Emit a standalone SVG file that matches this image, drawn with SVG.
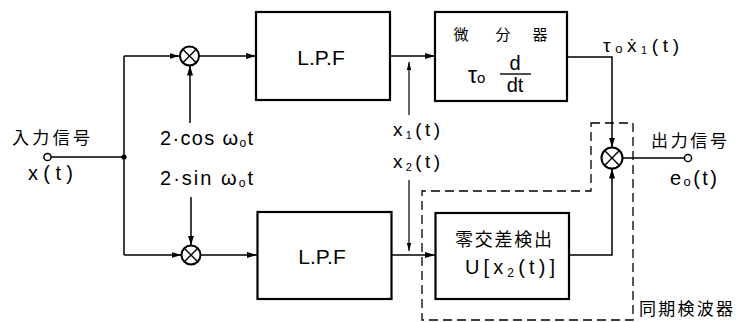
<svg xmlns="http://www.w3.org/2000/svg" width="736" height="322" viewBox="0 0 736 322">
<style>
  .box{fill:#fff;stroke:#000;stroke-width:2.2}
  .ln{fill:none;stroke:#000;stroke-width:1.5}
  .mx{fill:#fff;stroke:#000;stroke-width:2}
  .mxl{stroke:#000;stroke-width:1.4}
  .term{fill:#fff;stroke:#000;stroke-width:1.5}
  .dash{fill:none;stroke:#000;stroke-width:1.3;stroke-dasharray:9 5}
  .t{font-family:"Liberation Sans","DejaVu Sans",Arial,sans-serif;fill:#000}
  .j{font-family:"Noto Sans CJK JP","Noto Sans",sans-serif;fill:#000}
</style>
<defs>
  <marker id="ah" markerUnits="userSpaceOnUse" markerWidth="11" markerHeight="7" refX="10" refY="3.5" orient="auto">
    <path d="M0,0.5 L10,3.5 L0,6.5 z" fill="#000"/>
  </marker>
  <marker id="ahs" markerUnits="userSpaceOnUse" markerWidth="9" markerHeight="6" refX="8" refY="3" orient="auto">
    <path d="M0,0.8 L8,3 L0,5.2 z" fill="#000"/>
  </marker>
</defs>

<g id="connectors">
  <line class="ln" x1="51" y1="157" x2="124" y2="157"/>
  <line class="ln" x1="124" y1="56" x2="124" y2="255"/>
  <circle cx="124" cy="157" r="2.6" fill="#000"/>
  <line class="ln" x1="124" y1="56" x2="179.5" y2="56" marker-end="url(#ah)"/>
  <line class="ln" x1="124" y1="255" x2="181.5" y2="255" marker-end="url(#ah)"/>
  <line class="ln" x1="199" y1="56" x2="256" y2="56" marker-end="url(#ah)"/>
  <line class="ln" x1="201" y1="255" x2="257" y2="255" marker-end="url(#ah)"/>
  <line class="ln" x1="190" y1="123" x2="190" y2="65.5" marker-end="url(#ah)"/>
  <line class="ln" x1="191" y1="197" x2="191" y2="245.5" marker-end="url(#ah)"/>
  <line class="ln" x1="390" y1="56" x2="435" y2="56" marker-end="url(#ah)"/>
  <line class="ln" x1="392" y1="255" x2="435" y2="255" marker-end="url(#ah)"/>
  <polyline class="ln" points="567,57 612,57 612,147.5" marker-end="url(#ah)"/>
  <polyline class="ln" points="569,255 612,255 612,168.5" marker-end="url(#ah)"/>
  <line class="ln" x1="622.5" y1="158" x2="684.5" y2="158"/>
  <line class="ln" x1="409" y1="115" x2="409" y2="62" marker-end="url(#ahs)" style="stroke-width:1.2"/>
  <line class="ln" x1="409" y1="180" x2="409" y2="251" marker-end="url(#ahs)" style="stroke-width:1.2"/>
</g>

<g id="sync-detector">
  <path class="dash" d="M591,123 H633 V320 H422 V191 H591 Z"/>
  <text class="j" x="639" y="315" font-size="17" textLength="94" lengthAdjust="spacing">同期検波器</text>
</g>

<g id="input">
  <circle class="term" cx="47.5" cy="157" r="3.6"/>
  <text class="j" x="12" y="143.5" font-size="17" textLength="78" lengthAdjust="spacing">入力信号</text>
  <text class="t" x="28" y="180" font-size="20" textLength="45" lengthAdjust="spacing">x(t)</text>
</g>

<g id="mixer-top">
  <circle class="mx" cx="189.5" cy="56" r="9.5"/>
  <line class="mxl" x1="182.8" y1="49.3" x2="196.2" y2="62.7"/>
  <line class="mxl" x1="196.2" y1="49.3" x2="182.8" y2="62.7"/>
</g>

<g id="mixer-bottom">
  <circle class="mx" cx="191" cy="255" r="9.5"/>
  <line class="mxl" x1="184.3" y1="248.3" x2="197.7" y2="261.7"/>
  <line class="mxl" x1="197.7" y1="248.3" x2="184.3" y2="261.7"/>
</g>

<g id="carriers">
  <text class="t" x="160" y="145" font-size="20" textLength="93" lengthAdjust="spacing">2·cos ω<tspan font-size="12" dy="2">o</tspan><tspan dy="-2">t</tspan></text>
  <text class="t" x="160" y="185" font-size="20" textLength="93" lengthAdjust="spacing">2·sin ω<tspan font-size="12" dy="2">o</tspan><tspan dy="-2">t</tspan></text>
</g>

<g id="lpf-top">
  <rect class="box" x="256" y="12" width="134" height="88"/>
  <text class="t" x="321" y="65" font-size="21" text-anchor="middle">L.P.F</text>
</g>

<g id="lpf-bottom">
  <rect class="box" x="257.5" y="212" width="134" height="87"/>
  <text class="t" x="322" y="264" font-size="21" text-anchor="middle">L.P.F</text>
</g>

<g id="signal-labels">
  <text class="t" x="393" y="136" font-size="19" textLength="47" lengthAdjust="spacing">x<tspan font-size="11" dy="3">1</tspan><tspan dy="-3">(t)</tspan></text>
  <text class="t" x="393" y="168" font-size="19" textLength="47" lengthAdjust="spacing">x<tspan font-size="11" dy="3">2</tspan><tspan dy="-3">(t)</tspan></text>
</g>

<g id="differentiator">
  <rect class="box" x="435" y="12" width="132" height="89"/>
  <text class="j" x="461" y="40" font-size="15" text-anchor="middle">微</text>
  <text class="j" x="503" y="40" font-size="15" text-anchor="middle">分</text>
  <text class="j" x="540" y="40" font-size="15" text-anchor="middle">器</text>
  <text class="t" x="468" y="83" font-size="23">τ<tspan font-size="15" dy="0">o</tspan></text>
  <text class="t" x="515" y="70" font-size="20" text-anchor="middle">d</text>
  <line x1="500" y1="74" x2="531" y2="74" stroke="#000" stroke-width="1.4"/>
  <text class="t" x="515" y="92" font-size="20" text-anchor="middle">dt</text>
  <text class="t" x="603" y="52" font-size="19" textLength="76" lengthAdjust="spacing">τ<tspan font-size="13" dy="1">o</tspan><tspan dy="-1">ẋ</tspan><tspan font-size="11" dy="2">1</tspan><tspan dy="-2">(t)</tspan></text>
</g>

<g id="zero-cross">
  <rect class="box" x="435.5" y="213" width="133.5" height="86"/>
  <text class="j" x="455" y="246" font-size="18" textLength="97" lengthAdjust="spacing">零交差検出</text>
  <text class="t" x="465" y="274" font-size="20" textLength="90" lengthAdjust="spacing">U[x<tspan font-size="12" dy="3">2</tspan><tspan dy="-3">(t)]</tspan></text>
</g>

<g id="mixer-out">
  <circle class="mx" cx="612" cy="158" r="10.5"/>
  <line class="mxl" x1="604.6" y1="150.6" x2="619.4" y2="165.4"/>
  <line class="mxl" x1="619.4" y1="150.6" x2="604.6" y2="165.4"/>
</g>

<g id="output">
  <circle class="term" cx="688" cy="158" r="3.6"/>
  <text class="j" x="651" y="146.5" font-size="17" textLength="76" lengthAdjust="spacing">出力信号</text>
  <text class="t" x="670" y="185" font-size="20" textLength="47" lengthAdjust="spacing">e<tspan font-size="13" dy="1">o</tspan><tspan dy="-1">(t)</tspan></text>
</g>
</svg>
